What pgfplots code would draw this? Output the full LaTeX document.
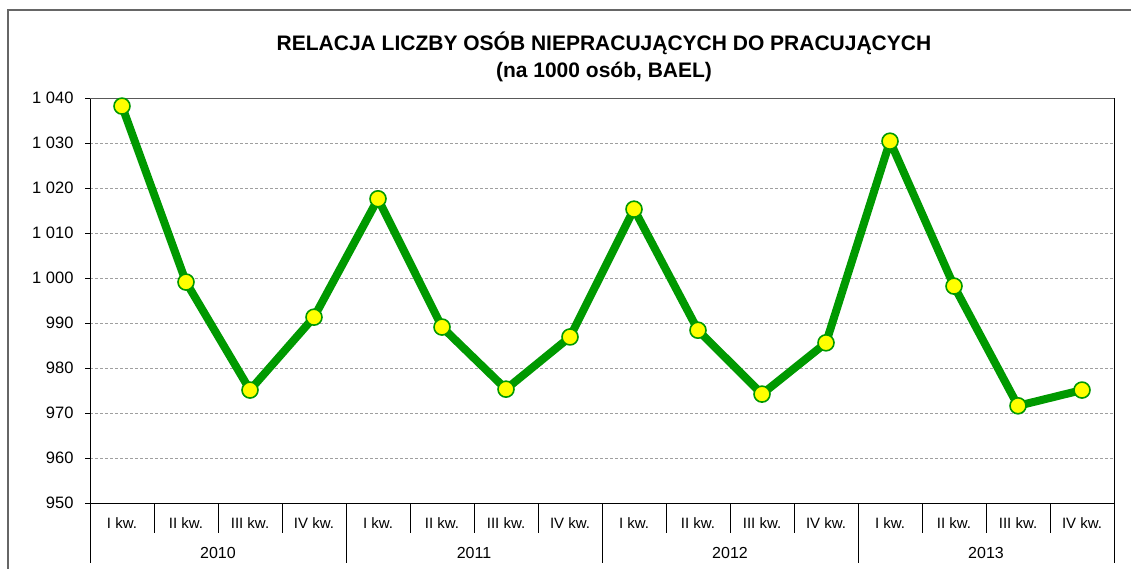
\documentclass[border=0pt]{standalone}
\usepackage{pgfplots}
\pgfplotsset{compat=1.18}
\usepackage{fontspec}
\setmainfont{Liberation Sans}
\definecolor{lgreen}{RGB}{0,153,0}
\definecolor{myyellow}{RGB}{255,255,0}
\begin{document}
\begin{tikzpicture}
\useasboundingbox (0pt,0pt) rectangle (1131pt,-568pt);
\draw[line width=1.5pt, gray!80!black] (8pt,-10pt) rectangle (1145pt,-590pt);
\node[font=\bfseries\fontsize{21}{26.5}\selectfont, align=center] at (604pt,-57pt) {RELACJA LICZBY OSÓB NIEPRACUJĄCYCH DO PRACUJĄCYCH\\(na 1000 osób, BAEL)};
\begin{axis}[at={(90pt,-503pt)}, anchor=south west, width=1024pt, height=405pt, scale only axis,
 xmin=0.5, xmax=16.5, ymin=950, ymax=1040,
 axis x line=bottom, axis y line=left,
 x axis line style={-, line width=0.8pt}, y axis line style={-, line width=0.8pt},
 ytick={950,960,...,1040}, yticklabels={950,960,970,980,990,1 000,1 010,1 020,1 030,1 040},
 ymajorgrids, grid style={densely dashed, gray!75, line width=0.6pt},
 y tick label style={font=\fontsize{16.5}{19}\selectfont, xshift=-8pt},
 ytick style={black, line width=0.8pt}, tick align=outside, major tick length=5pt,
 xtick=\empty,
 clip=false,
]
\draw[gray!70!black, line width=0.9pt] (axis cs:0.5,1040) -- (axis cs:16.5,1040);
\draw[black, line width=0.8pt] (axis cs:16.5,1040) -- ([yshift=-60pt]axis cs:16.5,950);
\draw[black, line width=0.8pt] (axis cs:0.5,950) -- ([yshift=-60pt]axis cs:0.5,950);
\pgfplotsinvokeforeach{4.5,8.5,12.5}{\draw[black, line width=0.8pt] (axis cs:#1,950) -- ([yshift=-60pt]axis cs:#1,950);}
\pgfplotsinvokeforeach{1.5,2.5,3.5,5.5,6.5,7.5,9.5,10.5,11.5,13.5,14.5,15.5}{\draw[black, line width=0.8pt] (axis cs:#1,950) -- ([yshift=-30pt]axis cs:#1,950);}
\pgfplotsinvokeforeach{0,4,8,12}{
 \node[font=\fontsize{15}{18}\selectfont] at ([yshift=-20pt]axis cs:#1+1,950) {I kw.};
 \node[font=\fontsize{15}{18}\selectfont] at ([yshift=-20pt]axis cs:#1+2,950) {II kw.};
 \node[font=\fontsize{15}{18}\selectfont] at ([yshift=-20pt]axis cs:#1+3,950) {III kw.};
 \node[font=\fontsize{15}{18}\selectfont] at ([yshift=-20pt]axis cs:#1+4,950) {IV kw.};
}
\node[font=\fontsize{16}{19}\selectfont] at ([yshift=-50pt]axis cs:2.5,950) {2010};
\node[font=\fontsize{16}{19}\selectfont] at ([yshift=-50pt]axis cs:6.5,950) {2011};
\node[font=\fontsize{16}{19}\selectfont] at ([yshift=-50pt]axis cs:10.5,950) {2012};
\node[font=\fontsize{16}{19}\selectfont] at ([yshift=-50pt]axis cs:14.5,950) {2013};
\addplot[lgreen, line width=8pt, line join=round, mark=*, mark size=8pt, mark options={fill=myyellow, draw=lgreen, line width=1.6pt}] coordinates {
(1,1038.2) (2,999.1) (3,975.1) (4,991.3) (5,1017.6) (6,989.1) (7,975.3) (8,986.9)
(9,1015.3) (10,988.4) (11,974.2) (12,985.6) (13,1030.4) (14,998.2) (15,971.6) (16,975.1)};
\end{axis}
\end{tikzpicture}
\end{document}
